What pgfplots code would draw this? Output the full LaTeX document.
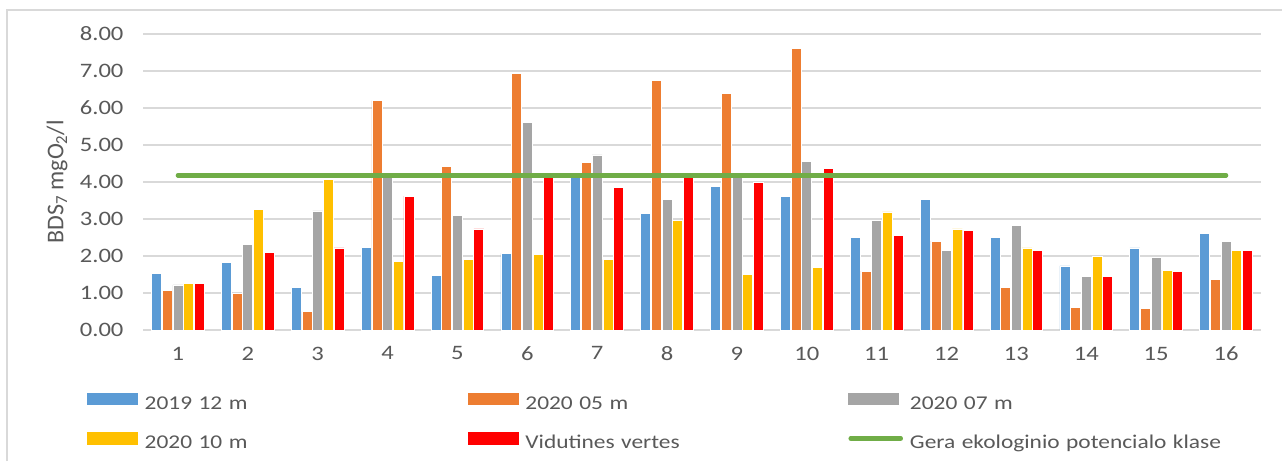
\documentclass[border=0pt]{standalone}
\usepackage{fontspec}
\setmainfont{Carlito}[FakeStretch=1.2]
\newfontfamily\ylabfont{Carlito}
\usepackage{pgfplots}
\usepackage{pgfplotstable}
\pgfplotsset{compat=1.18}
\definecolor{cblue}{HTML}{5B9BD5}
\definecolor{corange}{HTML}{ED7D31}
\definecolor{cgray}{HTML}{A5A5A5}
\definecolor{cyellow}{HTML}{FFC000}
\definecolor{cred}{HTML}{FF0000}
\definecolor{cgreen}{HTML}{70AD47}
\definecolor{gridgray}{HTML}{D9D9D9}
\definecolor{txtgray}{HTML}{595959}
\pgfplotstableread{
x  b    o    g    y    r
1  1.53 1.07 1.22 1.27 1.27
2  1.82 0.99 2.31 3.27 2.10
3  1.14 0.50 3.22 4.07 2.22
4  2.24 6.20 4.13 1.85 3.62
5  1.48 4.42 3.10 1.91 2.73
6  2.07 6.94 5.61 2.05 4.13
7  4.13 4.53 4.73 1.91 3.85
8  3.14 6.74 3.53 2.97 4.13
9  3.87 6.39 4.13 1.50 3.99
10 3.61 7.62 4.56 1.70 4.36
11 2.50 1.59 2.97 3.19 2.56
12 3.53 2.40 2.16 2.73 2.70
13 2.50 1.16 2.82 2.22 2.16
14 1.73 0.62 1.45 1.99 1.45
15 2.22 0.59 1.96 1.62 1.59
16 2.61 1.36 2.40 2.14 2.14
}\datatable
\pgfplotstableread{
x  v
1  4.18
16 4.18
}\linetable
\pgfplotsset{
  mybar/.style={fill=#1, draw=white, line width=0.7pt,
    legend image code/.code={\fill[#1] (0pt,0pt) rectangle (50pt,11.5pt);}},
}
\begin{document}
\begin{tikzpicture}
\useasboundingbox (0,0) rectangle (1282pt,461pt);
\fill[white] (0,0) rectangle (1282pt,461pt);
\draw[gridgray, line width=2pt] (7pt,0pt) -- (7pt,451pt) -- (1282pt,451pt);
\begin{axis}[
  at={(143pt,131pt)}, anchor=south west,
  scale only axis, width=1118pt, height=296pt,
  xmin=0.5, xmax=16.5, ymin=0, ymax=8,
  xtick={1,...,16}, ytick={0,1,...,8},
  ymajorgrids, grid style={gridgray, line width=1.3pt},
  axis line style={draw=none},
  major tick length=0pt,
  /pgf/number format/assume math mode=true,
  yticklabel style={/pgf/number format/fixed, /pgf/number format/fixed zerofill, /pgf/number format/precision=2},
  yticklabel style={anchor=east, xshift=-16pt},
  xticklabel style={anchor=north, yshift=-13.3pt},
  tick label style={font=\fontsize{20.5}{24}\selectfont, text=txtgray},
  ylabel={\ylabfont BDS\textsubscript{7} mgO\textsubscript{2}/l},
  every axis y label/.style={at={(axis description cs:-0.0769,0.5)}, rotate=90, anchor=center, font=\fontsize{24}{28}\selectfont, text=txtgray},
  ybar=0.7pt, bar width=10pt,
  legend columns=3,
  legend cell align=left,
  legend style={at={(axis description cs:-0.0501,-0.2118)}, anchor=north west,
    draw=none, fill=none, inner sep=0pt, outer sep=0pt,
    column sep=0pt, row sep=18.6pt,
    font=\fontsize{19.5}{23}\selectfont, text=txtgray,
    nodes={inner xsep=7pt, inner ysep=0pt, text width=316pt, text height=14pt, text depth=4pt, align=left}},
]
\addplot[mybar=cblue] table[x=x, y=b] {\datatable};
\addlegendentry{2019 12 m}
\addplot[mybar=corange] table[x=x, y=o] {\datatable};
\addlegendentry{2020 05 m}
\addplot[mybar=cgray] table[x=x, y=g] {\datatable};
\addlegendentry{2020 07 m}
\addplot[mybar=cyellow] table[x=x, y=y] {\datatable};
\addlegendentry{2020 10 m}
\addplot[mybar=cred] table[x=x, y=r] {\datatable};
\addlegendentry{Vidutines vertes}
\addplot[sharp plot, cgreen, line width=4.5pt, line cap=round, mark=none,
  legend image code/.code={\draw[cgreen, line width=4.5pt, line cap=round] (2pt,5.5pt) -- (52pt,5.5pt);}]
  table[x=x, y=v] {\linetable};
\addlegendentry{Gera ekologinio potencialo klase}
\end{axis}
\end{tikzpicture}
\end{document}
